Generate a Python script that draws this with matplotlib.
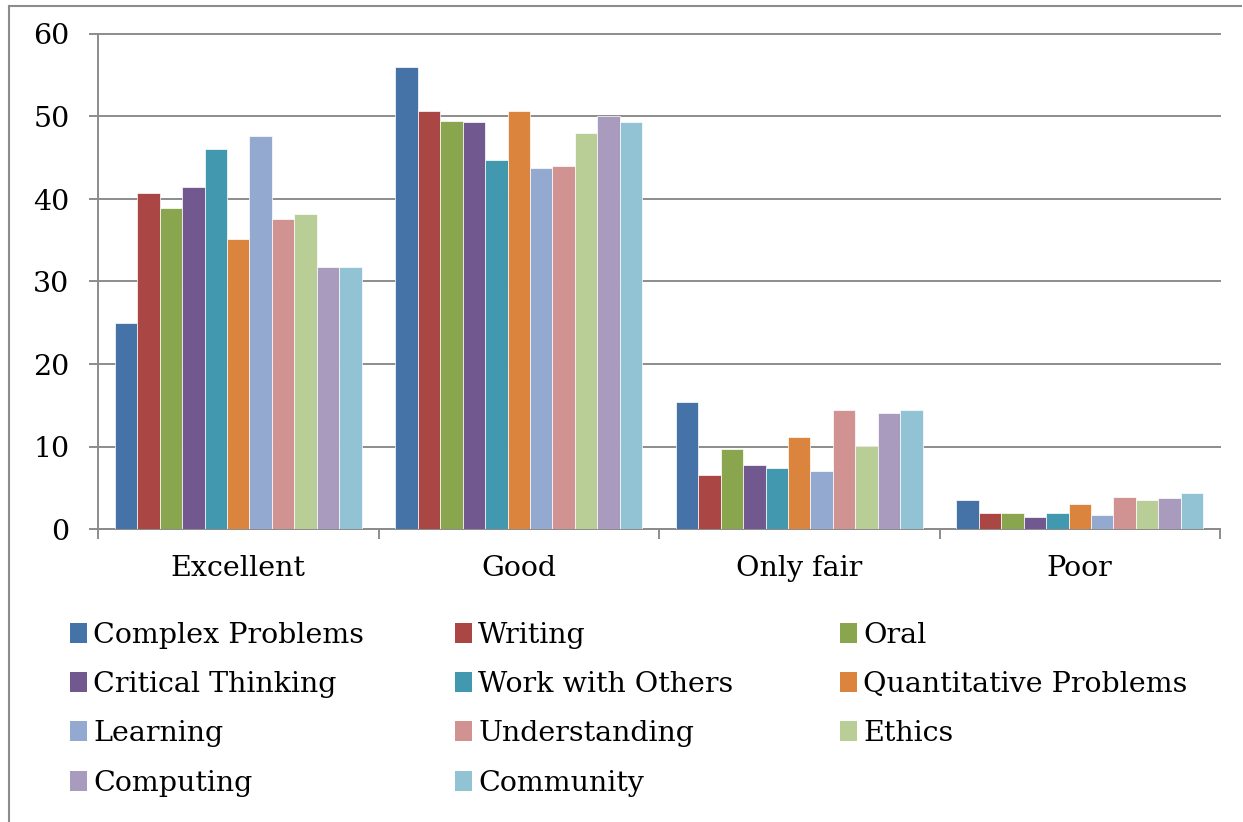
import matplotlib
matplotlib.use('Agg')
import matplotlib.pyplot as plt
from matplotlib.patches import Patch
from matplotlib.lines import Line2D
import numpy as np

plt.rcParams['font.family'] = ['DejaVu Serif']

categories = ['Excellent', 'Good', 'Only fair', 'Poor']
series = ['Complex Problems', 'Writing', 'Oral', 'Critical Thinking',
          'Work with Others', 'Quantitative Problems', 'Learning',
          'Understanding', 'Ethics', 'Computing', 'Community']
colors = ['#4572a7', '#aa4643', '#89a54e', '#71588f', '#4198af', '#db843d',
          '#93a9cf', '#d19392', '#b9cd96', '#a99bbd', '#92c3d4']

complex_problems = [25.0, 56.0, 15.4, 3.55]
writing = [40.7, 50.7, 6.6, 2.0]
oral = [38.9, 49.45, 9.65, 2.0]
critical_thinking = [41.5, 49.3, 7.7, 1.45]
work_with_others = [46.0, 44.7, 7.35, 2.0]
quantitative = [35.2, 50.7, 11.1, 3.0]
learning = [47.6, 43.8, 7.0, 1.65]
understanding = [37.6, 44.0, 14.4, 3.9]
ethics = [38.2, 48.0, 10.1, 3.55]
computing = [31.7, 50.1, 14.1, 3.75]
community = [31.8, 49.3, 14.4, 4.35]

values = [complex_problems, writing, oral, critical_thinking, work_with_others,
          quantitative, learning, understanding, ethics, computing, community]

W, H = 1243, 822
fs = 20.5
fig = plt.figure(figsize=(W / 100, H / 100), dpi=100)
ax = fig.add_axes([98 / W, 1 - 529 / H, (1220 - 98) / W, (529 - 34) / H])

grey = '#8c8c8c'
n = len(series)
bw = 1 / (n + 1.5)
x = np.arange(len(categories))
for i, (name, vals) in enumerate(zip(series, values)):
    ax.bar(x - 0.5 + 0.75 * bw + (i + 0.5) * bw, vals, width=bw,
           color=colors[i], edgecolor='white', linewidth=0.5, label=name, zorder=3)

ax.set_xlim(-0.5, len(categories) - 0.5)
ax.set_ylim(0, 60)
ax.set_yticks(range(0, 61, 10))
ax.set_yticklabels(['0', '10', '20', '30', '40', '50', '60'], fontsize=fs)
ax.set_xticks(x)
ax.set_xticklabels(categories, fontsize=fs)
ax.set_xticks(np.arange(len(categories) + 1) - 0.5, minor=True)
ax.tick_params(axis='x', which='major', length=0, pad=19)
ax.tick_params(axis='x', which='minor', length=7, width=1.4, color=grey, direction='out')
ax.tick_params(axis='y', length=6.5, width=1.4, color=grey, pad=14)
ax.yaxis.grid(True, color=grey, linewidth=1.4, zorder=0)
for gl in ax.get_ygridlines():
    gl.set_clip_on(False)
ax.set_axisbelow(True)
for s in ['top', 'right']:
    ax.spines[s].set_visible(False)
for s in ['left', 'bottom']:
    ax.spines[s].set_color(grey)
    ax.spines[s].set_linewidth(1.4)

# legend, three columns, row-major order
col_x = [70, 455, 840]
for c in range(3):
    idx = list(range(c, n, 3))
    handles = [Patch(facecolor=colors[i], edgecolor='none', label=series[i]) for i in idx]
    fig.legend(handles=handles, loc='upper left', bbox_to_anchor=(col_x[c] / W, 1 - 622 / H),
               frameon=False, fontsize=fs, handlelength=0.6, handleheight=0.7,
               handletextpad=0.22, labelspacing=0.78, borderpad=0, borderaxespad=0)

# outer chart frame
fig.add_artist(Line2D([9 / W, 1241 / W], [1 - 6 / H, 1 - 6 / H], color=grey, lw=1.5))
fig.add_artist(Line2D([9 / W, 9 / W], [0, 1 - 6 / H], color=grey, lw=1.5))

fig.savefig('out.png', dpi=100)
